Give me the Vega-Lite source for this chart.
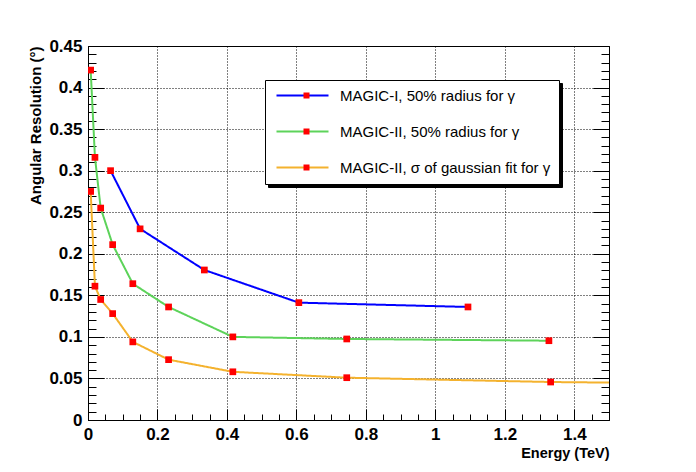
{
  "$schema": "https://vega.github.io/schema/vega-lite/v6.json",
  "width": 521,
  "height": 374,
  "autosize": "none",
  "padding": {"left": 88, "top": 46, "right": 87, "bottom": 52},
  "background": "white",
  "config": {
    "font": "Liberation Sans",
    "view": {"stroke": "black", "strokeWidth": 1}
  },
  "data": {
    "values": [
      {"series": "MAGIC-I, 50% radius for γ", "energy": 0.065, "res": 0.300},
      {"series": "MAGIC-I, 50% radius for γ", "energy": 0.150, "res": 0.230},
      {"series": "MAGIC-I, 50% radius for γ", "energy": 0.335, "res": 0.1805},
      {"series": "MAGIC-I, 50% radius for γ", "energy": 0.607, "res": 0.1412},
      {"series": "MAGIC-I, 50% radius for γ", "energy": 1.094, "res": 0.136},
      {"series": "MAGIC-II, 50% radius for γ", "energy": 0.0077, "res": 0.421},
      {"series": "MAGIC-II, 50% radius for γ", "energy": 0.020, "res": 0.316},
      {"series": "MAGIC-II, 50% radius for γ", "energy": 0.0365, "res": 0.255},
      {"series": "MAGIC-II, 50% radius for γ", "energy": 0.071, "res": 0.211},
      {"series": "MAGIC-II, 50% radius for γ", "energy": 0.129, "res": 0.164},
      {"series": "MAGIC-II, 50% radius for γ", "energy": 0.232, "res": 0.136},
      {"series": "MAGIC-II, 50% radius for γ", "energy": 0.417, "res": 0.100},
      {"series": "MAGIC-II, 50% radius for γ", "energy": 0.745, "res": 0.0975},
      {"series": "MAGIC-II, 50% radius for γ", "energy": 1.327, "res": 0.0954},
      {"series": "MAGIC-II, σ of gaussian fit for γ", "energy": 0.0077, "res": 0.275},
      {"series": "MAGIC-II, σ of gaussian fit for γ", "energy": 0.020, "res": 0.161},
      {"series": "MAGIC-II, σ of gaussian fit for γ", "energy": 0.0365, "res": 0.145},
      {"series": "MAGIC-II, σ of gaussian fit for γ", "energy": 0.071, "res": 0.128},
      {"series": "MAGIC-II, σ of gaussian fit for γ", "energy": 0.129, "res": 0.094},
      {"series": "MAGIC-II, σ of gaussian fit for γ", "energy": 0.232, "res": 0.0726},
      {"series": "MAGIC-II, σ of gaussian fit for γ", "energy": 0.417, "res": 0.058},
      {"series": "MAGIC-II, σ of gaussian fit for γ", "energy": 0.745, "res": 0.0509},
      {"series": "MAGIC-II, σ of gaussian fit for γ", "energy": 1.332, "res": 0.0457},
      {"series": "MAGIC-II, σ of gaussian fit for γ", "energy": 2.0, "res": 0.043}
    ]
  },
  "resolve": {"axis": {"x": "independent", "y": "independent"}},
  "layer": [
    {
      "mark": {"type": "line", "strokeWidth": 2, "clip": true},
      "encoding": {
        "x": {
          "field": "energy", "type": "quantitative",
          "scale": {"domain": [0, 1.5], "nice": false, "zero": false},
          "axis": {
            "orient": "bottom",
            "values": [0, 0.2, 0.4, 0.6, 0.8, 1, 1.2, 1.4],
            "format": "~g",
            "domain": false,
            "tickSize": -11, "tickColor": "black", "tickWidth": 1,
            "labelFontSize": 17, "labelFontWeight": "bold", "labelColor": "black",
            "labelPadding": 17, "labelFlush": false, "labelOverlap": false,
            "grid": true, "gridColor": "black", "gridDash": [1, 2], "gridOpacity": 1, "gridWidth": 1,
            "title": "Energy (TeV)",
            "titleFontSize": 14.5, "titleFontWeight": "bold", "titleColor": "black",
            "titleAnchor": "end", "titleAlign": "right", "titleBaseline": "alphabetic",
            "titleX": 521, "titleY": 37
          }
        },
        "y": {
          "field": "res", "type": "quantitative",
          "scale": {"domain": [0, 0.45], "nice": false},
          "axis": {
            "orient": "left",
            "values": [0, 0.05, 0.1, 0.15, 0.2, 0.25, 0.3, 0.35, 0.4, 0.45],
            "format": "~g",
            "domain": false,
            "tickSize": -16, "tickColor": "black", "tickWidth": 1,
            "labelFontSize": 17, "labelFontWeight": "bold", "labelColor": "black",
            "labelPadding": 22, "labelFlush": false, "labelOverlap": false,
            "grid": true, "gridColor": "black", "gridDash": [1, 2], "gridOpacity": 1, "gridWidth": 1,
            "title": "Angular Resolution (°)",
            "titleFontSize": 15, "titleFontWeight": "bold", "titleColor": "black",
            "titleAngle": -90, "titleAlign": "right", "titleBaseline": "middle",
            "titleX": -53, "titleY": 0
          }
        },
        "color": {
          "field": "series", "type": "nominal",
          "scale": {
            "domain": ["MAGIC-I, 50% radius for γ", "MAGIC-II, 50% radius for γ", "MAGIC-II, σ of gaussian fit for γ"],
            "range": ["#0000ff", "#5dd35a", "#f4b22e"]
          },
          "legend": {
            "orient": "none", "legendX": 177, "legendY": 34, "zindex": 1,
            "title": null,
            "fillColor": "white", "strokeColor": "black",
            "padding": 8, "rowPadding": 20,
            "symbolType": "M-0.667,0H8", "symbolSize": 144, "symbolStrokeWidth": 2,
            "labelFontSize": 15, "labelColor": "black", "labelOffset": 52, "labelLimit": 400
          }
        },
        "strokeDash": {
          "field": "series", "type": "nominal", "sort": "descending",
          "scale": {"range": [[1, 0], [1, 0], [1, 0]]},
          "legend": {
            "orient": "none", "legendX": 180, "legendY": 37, "zindex": 0,
            "title": null,
            "fillColor": "black", "strokeColor": "black",
            "padding": 8, "rowPadding": 20,
            "symbolType": "M-0.667,0H8", "symbolSize": 144, "symbolStrokeWidth": 2,
            "symbolStrokeColor": "black",
            "labelFontSize": 15, "labelColor": "black", "labelOffset": 52, "labelLimit": 400
          }
        }
      }
    },
    {
      "mark": {"type": "point", "filled": true, "color": "#ff0000", "size": 45, "opacity": 1, "strokeWidth": 0, "clip": true},
      "encoding": {
        "x": {
          "field": "energy", "type": "quantitative",
          "axis": {
            "orient": "bottom",
            "values": [0, 0.05, 0.1, 0.15, 0.2, 0.25, 0.3, 0.35, 0.4, 0.45, 0.5, 0.55, 0.6, 0.65, 0.7, 0.75, 0.8, 0.85, 0.9, 0.95, 1, 1.05, 1.1, 1.15, 1.2, 1.25, 1.3, 1.35, 1.4, 1.45, 1.5],
            "domain": false, "labels": false, "grid": false, "title": null,
            "tickSize": -6, "tickColor": "black", "tickWidth": 1
          }
        },
        "y": {
          "field": "res", "type": "quantitative",
          "axis": {
            "orient": "left",
            "values": [0, 0.01, 0.02, 0.03, 0.04, 0.05, 0.06, 0.07, 0.08, 0.09, 0.1, 0.11, 0.12, 0.13, 0.14, 0.15, 0.16, 0.17, 0.18, 0.19, 0.2, 0.21, 0.22, 0.23, 0.24, 0.25, 0.26, 0.27, 0.28, 0.29, 0.3, 0.31, 0.32, 0.33, 0.34, 0.35, 0.36, 0.37, 0.38, 0.39, 0.4, 0.41, 0.42, 0.43, 0.44, 0.45],
            "domain": false, "labels": false, "grid": false, "title": null,
            "tickSize": -8, "tickColor": "black", "tickWidth": 1
          }
        },
        "shape": {
          "field": "series", "type": "nominal",
          "scale": {"range": ["square", "square", "square"]},
          "legend": {
            "orient": "none", "legendX": 203, "legendY": 34, "zindex": 2,
            "title": null,
            "padding": 8, "rowPadding": 20,
            "symbolSize": 36, "symbolFillColor": "#ff0000", "symbolStrokeWidth": 0,
            "labelFontSize": 15, "labelExpr": "''", "labelOffset": 52
          }
        }
      }
    },
    {
      "mark": {"type": "point", "opacity": 0},
      "encoding": {
        "x": {"field": "energy", "type": "quantitative", "axis": null},
        "y": {
          "field": "res", "type": "quantitative",
          "axis": {
            "orient": "right",
            "values": [0, 0.05, 0.1, 0.15, 0.2, 0.25, 0.3, 0.35, 0.4, 0.45],
            "domain": false, "labels": false, "grid": false, "title": null,
            "tickSize": -16, "tickColor": "black", "tickWidth": 1
          }
        }
      }
    },
    {
      "mark": {"type": "point", "opacity": 0},
      "encoding": {
        "x": {"field": "energy", "type": "quantitative", "axis": null},
        "y": {
          "field": "res", "type": "quantitative",
          "axis": {
            "orient": "right",
            "values": [0, 0.01, 0.02, 0.03, 0.04, 0.05, 0.06, 0.07, 0.08, 0.09, 0.1, 0.11, 0.12, 0.13, 0.14, 0.15, 0.16, 0.17, 0.18, 0.19, 0.2, 0.21, 0.22, 0.23, 0.24, 0.25, 0.26, 0.27, 0.28, 0.29, 0.3, 0.31, 0.32, 0.33, 0.34, 0.35, 0.36, 0.37, 0.38, 0.39, 0.4, 0.41, 0.42, 0.43, 0.44, 0.45],
            "domain": false, "labels": false, "grid": false, "title": null,
            "tickSize": -8, "tickColor": "black", "tickWidth": 1
          }
        }
      }
    }
  ]
}
